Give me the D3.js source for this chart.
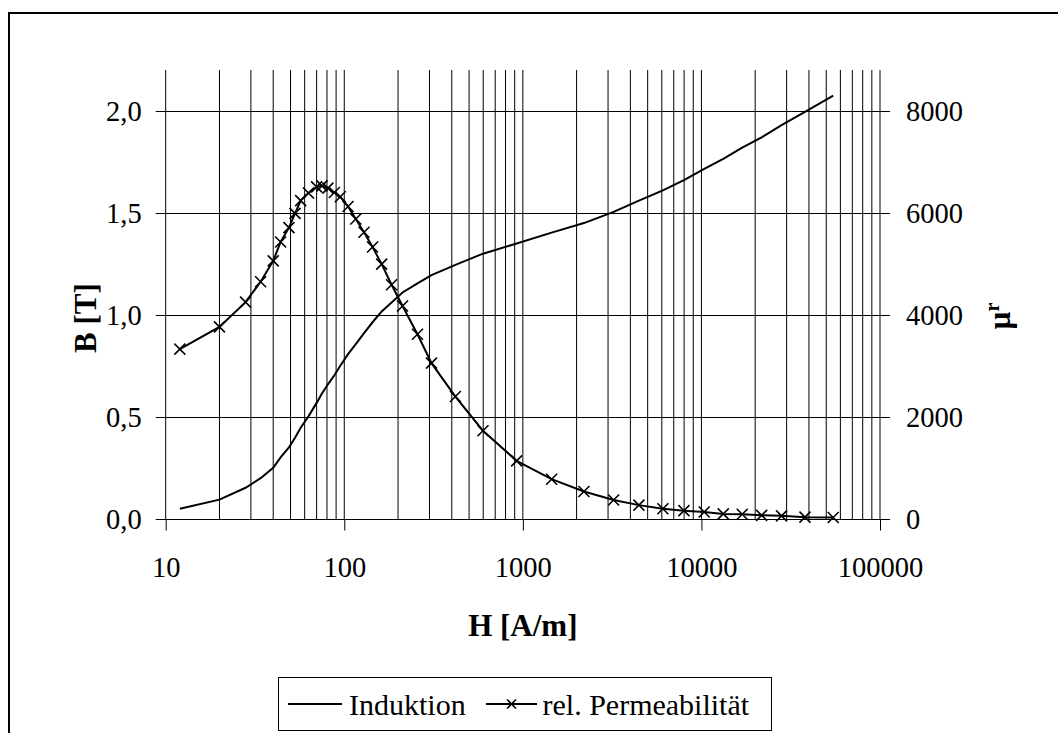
<!doctype html>
<html>
<head>
<meta charset="UTF-8">
<title>Magnetisierungskurve</title>
<style>
  body { margin: 0; background: #fff; }
  svg { display: block; font-family: "Liberation Serif", "Times New Roman", serif; }
</style>
</head>
<body>
<div id="chart"></div>
<script src="https://cdn.jsdelivr.net/npm/d3@7"></script>
<script>
// field strength H [A/m]
var fieldH = [12, 20, 28, 34, 40, 44, 49, 53, 57, 63, 70, 75, 81, 88, 95, 105, 116, 129, 144, 162,
  184, 212, 257, 308, 419, 598, 923, 1449, 2198, 3223, 4466, 6083, 7980, 10370, 13250, 16920, 21730, 28100, 38000, 54700];
// induction B [T]
var induktion = [0.050, 0.095, 0.153, 0.200, 0.251, 0.302, 0.351, 0.398, 0.447, 0.503, 0.569, 0.615, 0.660, 0.704, 0.751, 0.808, 0.857, 0.911, 0.964, 1.017,
  1.061, 1.110, 1.155, 1.195, 1.245, 1.300, 1.350, 1.403, 1.450, 1.505, 1.560, 1.610, 1.660, 1.715, 1.765, 1.820, 1.870, 1.930, 1.995, 2.075];
// relative permeability
var permeab = [3330, 3765, 4250, 4650, 5060, 5430, 5710, 5990, 6240, 6390, 6510, 6530, 6485, 6400, 6315, 6125, 5880, 5620, 5330, 4995,
  4590, 4175, 3620, 3055, 2400, 1730, 1140, 780, 540, 373, 272, 200, 163, 138, 100, 92, 72, 62, 36, 30];

var xTicks = [10, 100, 1000, 10000, 100000];
var bTicks = [0, 0.5, 1.0, 1.5, 2.0];
var muTicks = [0, 2000, 4000, 6000, 8000];

var W = 1058, Hh = 733;
var pLeft = 165.7, pRight = 880, pTop = 70, pBottom = 519;

var svg = d3.select("#chart").append("svg")
  .attr("width", W)
  .attr("height", Hh);

// outer frame
svg.append("rect")
  .attr("x", 9).attr("y", 13)
  .attr("width", 1100).attr("height", 800)
  .attr("fill", "none")
  .attr("stroke", "#000")
  .attr("stroke-width", 2);

var x = d3.scaleLog().domain([10, 100000]).range([pLeft, pRight]);
var yB = d3.scaleLinear().domain([0, 2.2]).range([pBottom, pTop]);
var yMu = d3.scaleLinear().domain([0, 8800]).range([pBottom, pTop]);

// vertical grid (log minor lines)
var grid = svg.append("g").attr("stroke", "#000").attr("stroke-width", 1);
grid.selectAll("line.v")
  .data(x.ticks())
  .enter().append("line")
  .attr("class", "v")
  .attr("x1", function(d) { return x(d); })
  .attr("x2", function(d) { return x(d); })
  .attr("y1", pTop)
  .attr("y2", pBottom);

// horizontal grid, sticking out on both sides like tick marks
grid.selectAll("line.h")
  .data(bTicks)
  .enter().append("line")
  .attr("class", "h")
  .attr("x1", pLeft - 10)
  .attr("x2", pRight + 10)
  .attr("y1", function(d) { return Math.round(yB(d)) + 0.5; })
  .attr("y2", function(d) { return Math.round(yB(d)) + 0.5; });

// x axis with decade ticks only
var xAxis = d3.axisBottom(x)
  .tickValues(xTicks)
  .tickSize(11)
  .tickFormat(d3.format("d"));
var gx = svg.append("g")
  .attr("transform", "translate(0," + (Math.round(pBottom) + 0.5) + ")")
  .call(xAxis);
gx.select(".domain").remove();
gx.selectAll(".tick line").attr("stroke", "#000");
gx.selectAll(".tick text")
  .attr("y", 57)
  .attr("dy", null)
  .attr("fill", "#000")
  .style("font-size", "28.5px")
  .style("font-family", "Liberation Serif");

var commaFmt = function(d) { return d3.format(".1f")(d).replace(".", ","); };

var yAxisL = d3.axisLeft(yB).tickValues(bTicks).tickSize(0).tickPadding(14).tickFormat(commaFmt);
var gyl = svg.append("g").attr("transform", "translate(" + (pLeft - 10) + ",0)").call(yAxisL);
gyl.select(".domain").remove();
gyl.selectAll(".tick text")
  .attr("fill", "#000")
  .attr("dy", "0.34em")
  .style("font-size", "28.5px")
  .style("font-family", "Liberation Serif");

var yAxisR = d3.axisRight(yMu).tickValues(muTicks).tickSize(0).tickPadding(16).tickFormat(d3.format("d"));
var gyr = svg.append("g").attr("transform", "translate(" + (pRight + 10) + ",0)").call(yAxisR);
gyr.select(".domain").remove();
gyr.selectAll(".tick text")
  .attr("fill", "#000")
  .attr("dy", "0.34em")
  .style("font-size", "28.5px")
  .style("font-family", "Liberation Serif");

// axis titles
svg.append("text")
  .attr("x", (pLeft + pRight) / 2)
  .attr("y", 636)
  .attr("text-anchor", "middle")
  .style("font-size", "31px")
  .style("font-weight", "bold")
  .text("H [A/m]");

svg.append("text")
  .attr("transform", "translate(96,318) rotate(-90)")
  .attr("text-anchor", "middle")
  .style("font-size", "31px")
  .style("font-weight", "bold")
  .text("B [T]");

var muTitle = svg.append("text")
  .attr("transform", "translate(1010,316) rotate(-90)")
  .attr("text-anchor", "middle")
  .style("font-size", "31px")
  .style("font-weight", "bold");
muTitle.append("tspan").text("\u00b5");
muTitle.append("tspan").attr("baseline-shift", "super").style("font-size", "20px").text("r");

// data lines
var pts = fieldH.map(function(h, i) { return { h: h, b: induktion[i], mu: permeab[i] }; });

var lineB = d3.line().x(function(d) { return x(d.h); }).y(function(d) { return yB(d.b); });
var lineMu = d3.line().x(function(d) { return x(d.h); }).y(function(d) { return yMu(d.mu); });

svg.append("path").datum(pts)
  .attr("d", lineB)
  .attr("fill", "none").attr("stroke", "#000").attr("stroke-width", 2);

svg.append("path").datum(pts)
  .attr("d", lineMu)
  .attr("fill", "none").attr("stroke", "#000").attr("stroke-width", 2);

function drawX(sel, cx, cy, r) {
  sel.append("path")
    .attr("d", "M" + (cx - r) + "," + (cy - r) + "L" + (cx + r) + "," + (cy + r) +
               "M" + (cx - r) + "," + (cy + r) + "L" + (cx + r) + "," + (cy - r))
    .attr("stroke", "#000").attr("stroke-width", 1.6).attr("fill", "none");
}
var marks = svg.append("g");
pts.forEach(function(d) { drawX(marks, x(d.h), yMu(d.mu), 5.5); });

// legend
var lg = svg.append("g");
lg.append("rect")
  .attr("x", 278.5).attr("y", 677.5)
  .attr("width", 493).attr("height", 53)
  .attr("fill", "#fff").attr("stroke", "#000").attr("stroke-width", 1);
lg.append("line").attr("x1", 288).attr("x2", 342).attr("y1", 704).attr("y2", 704)
  .attr("stroke", "#000").attr("stroke-width", 2);
lg.append("text").attr("x", 349).attr("y", 715).style("font-size", "30px").text("Induktion");
lg.append("line").attr("x1", 486).attr("x2", 537).attr("y1", 704).attr("y2", 704)
  .attr("stroke", "#000").attr("stroke-width", 2);
drawX(lg, 511.5, 704, 4.5);
lg.append("text").attr("x", 542.5).attr("y", 715).style("font-size", "30px").text("rel. Permeabilit\u00e4t");
</script>
</body>
</html>
